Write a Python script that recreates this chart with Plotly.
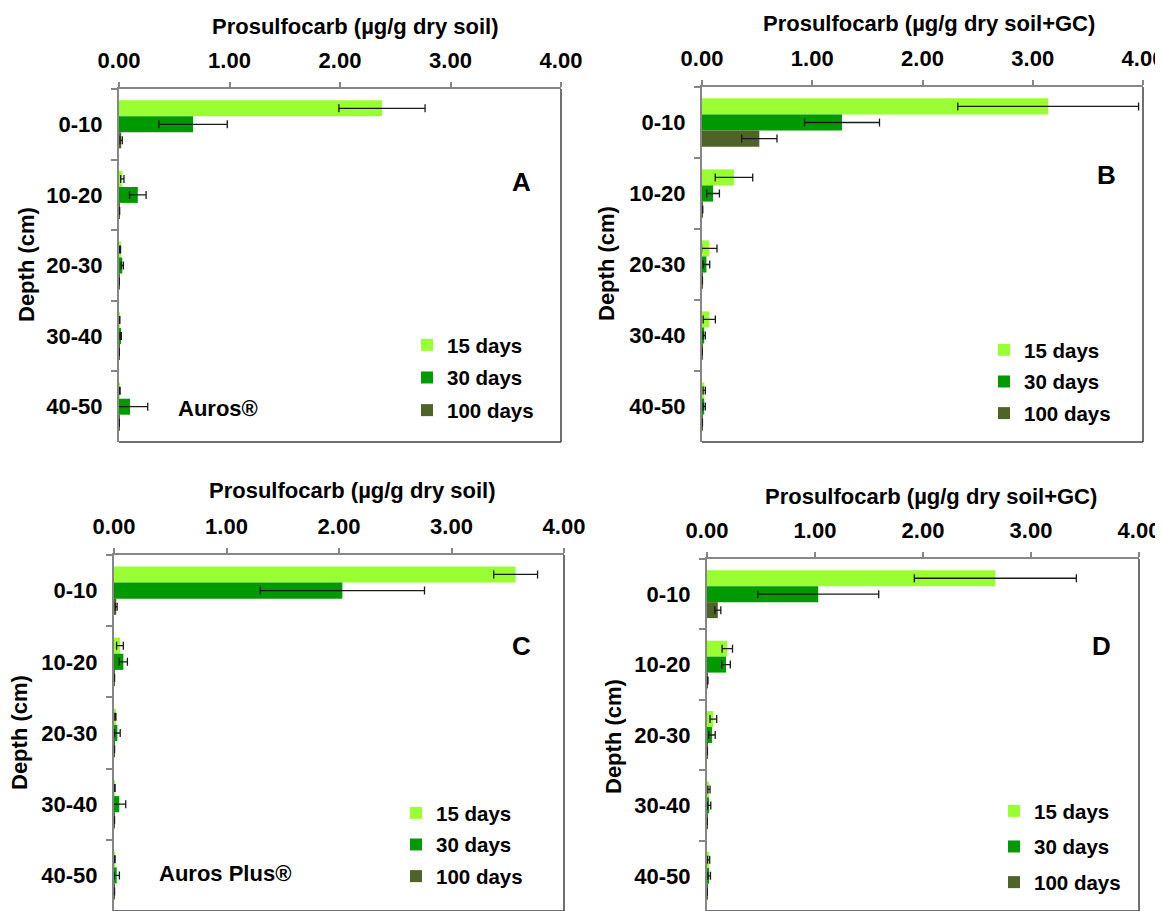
import plotly.graph_objects as go

# page body adds an 8px margin; the figure is sized to fill the rest of the window
OFF = 8
W, H = 1163 - OFF, 911 - OFF

depths = ["0-10", "10-20", "20-30", "30-40", "40-50"]
series_names = ["15 days", "30 days", "100 days"]
series_colors = ["#99FF33", "#009900", "#4F6228"]
x_ticks = [0, 1, 2, 3, 4]
x_tick_labels = ["0.00", "1.00", "2.00", "3.00", "4.00"]

# Panel A: Auros, dry soil
a_15 = [2.38, 0.03, 0.01, 0.005, 0.006]
a_15_err = [0.39, 0.015, 0.004, 0.003, 0.004]
a_30 = [0.67, 0.17, 0.03, 0.015, 0.10]
a_30_err = [0.31, 0.075, 0.01, 0.006, 0.16]
a_100 = [0.02, 0.004, 0.002, 0.002, 0.002]
a_100_err = [0.01, 0.002, 0.001, 0.001, 0.001]

# Panel B: Auros, dry soil + GC
b_15 = [3.14, 0.29, 0.066, 0.066, 0.02]
b_15_err = [0.82, 0.17, 0.07, 0.055, 0.01]
b_30 = [1.27, 0.10, 0.04, 0.02, 0.02]
b_30_err = [0.34, 0.058, 0.03, 0.01, 0.01]
b_100 = [0.52, 0.005, 0.003, 0.002, 0.003]
b_100_err = [0.16, 0.002, 0.001, 0.001, 0.001]

# Panel C: Auros Plus, dry soil
c_15 = [3.57, 0.053, 0.012, 0.006, 0.006]
c_15_err = [0.195, 0.03, 0.005, 0.004, 0.004]
c_30 = [2.03, 0.083, 0.03, 0.047, 0.024]
c_30_err = [0.73, 0.036, 0.025, 0.057, 0.024]
c_100 = [0.02, 0.003, 0.003, 0.003, 0.003]
c_100_err = [0.008, 0.002, 0.002, 0.002, 0.002]

# Panel D: Auros Plus, dry soil + GC
d_15 = [2.67, 0.188, 0.059, 0.018, 0.015]
d_15_err = [0.75, 0.048, 0.031, 0.01, 0.01]
d_30 = [1.03, 0.176, 0.046, 0.02, 0.02]
d_30_err = [0.56, 0.04, 0.03, 0.015, 0.012]
d_100 = [0.10, 0.006, 0.003, 0.002, 0.002]
d_100_err = [0.028, 0.003, 0.001, 0.001, 0.001]

FONT = "Arial, Liberation Sans, sans-serif"


def px_x(px):
    return (px - OFF) / W


def px_y(py):
    return 1 - (py - OFF) / H


panels = [
    dict(vals=[a_15, a_30, a_100], errs=[a_15_err, a_30_err, a_100_err],
         box=(119, 561, 89, 442), title="Prosulfocarb (µg/g dry soil)", title_xy=(355, 27),
         ytitle_xy=(26, 265), letter="A", letter_xy=(521, 182),
         product="Auros®", product_xy=(218, 408), legend_xy=(407, 325), gap=3),
    dict(vals=[b_15, b_30, b_100], errs=[b_15_err, b_30_err, b_100_err],
         box=(702, 1143, 87, 442), title="Prosulfocarb (µg/g dry soil+GC)", title_xy=(929, 24),
         ytitle_xy=(607, 264), letter="B", letter_xy=(1106, 175),
         product=None, product_xy=None, legend_xy=(984, 330), gap=2),
    dict(vals=[c_15, c_30, c_100], errs=[c_15_err, c_30_err, c_100_err],
         box=(114, 564, 555, 911), title="Prosulfocarb (µg/g dry soil)", title_xy=(352, 490),
         ytitle_xy=(19, 733), letter="C", letter_xy=(521, 646),
         product="Auros Plus®", product_xy=(225, 873), legend_xy=(396, 793), gap=2),
    dict(vals=[d_15, d_30, d_100], errs=[d_15_err, d_30_err, d_100_err],
         box=(707, 1139, 559, 911), title="Prosulfocarb (µg/g dry soil+GC)", title_xy=(931, 496),
         ytitle_xy=(613, 737), letter="D", letter_xy=(1101, 646),
         product=None, product_xy=None, legend_xy=(994, 791), gap=6),
]

fig = go.Figure()
annotations = []
shapes = []
layout_axes = {}

for i, p in enumerate(panels):
    n = "" if i == 0 else str(i + 1)
    xa, ya = "x" + n, "y" + n
    leg = "legend" + n
    for k in range(3):
        fig.add_trace(go.Bar(
            orientation="h", x=p["vals"][k], y=depths, name=series_names[k],
            marker=dict(color=series_colors[k], line=dict(width=0)),
            error_x=dict(type="data", array=p["errs"][k], color="#1a1a1a",
                         thickness=1.3, width=4),
            xaxis=xa, yaxis=ya, legend=leg, legendgroup=f"p{i}s{k}",
            showlegend=True,
        ))
    x0, x1, y0, y1 = p["box"]
    layout_axes["xaxis" + n] = dict(
        domain=[px_x(x0), px_x(x1)], anchor=ya, side="top", range=[0, 4],
        tickvals=x_ticks, ticktext=x_tick_labels, ticks="outside", ticklen=5,
        tickcolor="#868686", tickwidth=1.5, showline=True, linecolor="#868686",
        linewidth=1.5, showgrid=False, zeroline=False, ticklabelstandoff=5,
        automargin=False, ticklabeloverflow="allow",
        tickfont=dict(family=FONT, size=22, color="#000", weight="bold"),
        fixedrange=True,
    )
    layout_axes["yaxis" + n] = dict(
        domain=[max(0, px_y(y1)), px_y(y0)], anchor=xa, type="category",
        categoryorder="array", categoryarray=depths, autorange="reversed",
        ticks="outside", tickson="boundaries", ticklen=6, tickcolor="#868686",
        tickwidth=1.5, showline=True, linecolor="#868686", linewidth=2,
        showgrid=False, zeroline=False, ticklabelstandoff=10, automargin=False,
        tickfont=dict(family=FONT, size=22, color="#000", weight="bold"),
        fixedrange=True,
    )
    # right and bottom frame lines
    shapes.append(dict(type="line", xref=xa + " domain", yref=ya + " domain",
                       x0=1, x1=1, y0=0, y1=1, line=dict(color="#404040", width=1.5)))
    shapes.append(dict(type="line", xref=xa + " domain", yref=ya + " domain",
                       x0=0, x1=1, y0=0, y1=0, line=dict(color="#404040", width=1.5)))
    annotations.append(dict(text=p["title"], x=px_x(p["title_xy"][0]), y=px_y(p["title_xy"][1]),
                            xref="paper", yref="paper", showarrow=False,
                            xanchor="center", yanchor="middle",
                            font=dict(family=FONT, size=22, color="#000", weight="bold")))
    annotations.append(dict(text="Depth (cm)", x=px_x(p["ytitle_xy"][0]), y=px_y(p["ytitle_xy"][1]),
                            xref="paper", yref="paper", showarrow=False, textangle=-90,
                            xanchor="center", yanchor="middle",
                            font=dict(family=FONT, size=22, color="#000", weight="bold")))
    annotations.append(dict(text=p["letter"], x=px_x(p["letter_xy"][0]), y=px_y(p["letter_xy"][1]),
                            xref="paper", yref="paper", showarrow=False,
                            xanchor="center", yanchor="middle",
                            font=dict(family=FONT, size=26, color="#000", weight="bold")))
    if p["product"]:
        annotations.append(dict(text=p["product"], x=px_x(p["product_xy"][0]), y=px_y(p["product_xy"][1]),
                                xref="paper", yref="paper", showarrow=False,
                                xanchor="center", yanchor="middle",
                                font=dict(family=FONT, size=22, color="#000", weight="bold")))
    layout_axes[leg] = dict(
        x=px_x(p["legend_xy"][0]), y=px_y(p["legend_xy"][1]), xanchor="left", yanchor="top",
        xref="paper", yref="paper", bgcolor="rgba(0,0,0,0)", borderwidth=0,
        tracegroupgap=p["gap"], traceorder="grouped",
        font=dict(family=FONT, size=20.5, color="#000", weight="bold"),
    )

fig.update_layout(
    width=W, height=H, margin=dict(l=0, r=0, t=0, b=0, autoexpand=False),
    paper_bgcolor="white", plot_bgcolor="white",
    barmode="group", bargap=0.32, bargroupgap=0,
    annotations=annotations, shapes=shapes, **layout_axes,
)

fig.write_html("out.html")
